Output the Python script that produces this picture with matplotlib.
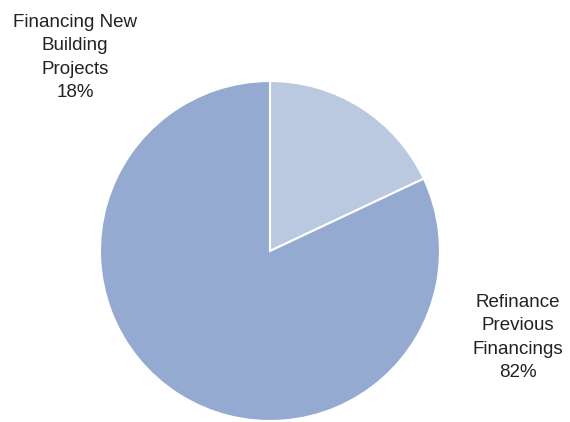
import matplotlib
matplotlib.use("Agg")
import matplotlib.pyplot as plt

labels = ["Financing New\nBuilding\nProjects", "Refinance\nPrevious\nFinancings"]
values = [18, 82]
colors = ["#BAC8E0", "#94AAD0"]

W, H = 570, 422
fig = plt.figure(figsize=(W / 100, H / 100), dpi=100)
cx, cy, r = 270, 251, 170
ax = fig.add_axes([(cx - r) / W, (H - cy - r) / H, 2 * r / W, 2 * r / H])
ax.pie(values, colors=colors, startangle=90, counterclock=False,
       wedgeprops=dict(edgecolor="white", linewidth=1.5), radius=1)
ax.set_xlim(-1, 1)
ax.set_ylim(-1, 1)
ax.set_aspect("equal")
ax.axis("off")

font = dict(family=["Liberation Sans", "DejaVu Sans"], fontsize=13.5, color="#222222",
            ha="center", va="center", linespacing=1.5)
fig.text(75 / W, 1 - 57.5 / H, f"{labels[0]}\n{values[0]}%", **font)
fig.text(518 / W, 1 - 337.5 / H, f"{labels[1]}\n{values[1]}%", **font)

fig.savefig("out.png", dpi=100)
